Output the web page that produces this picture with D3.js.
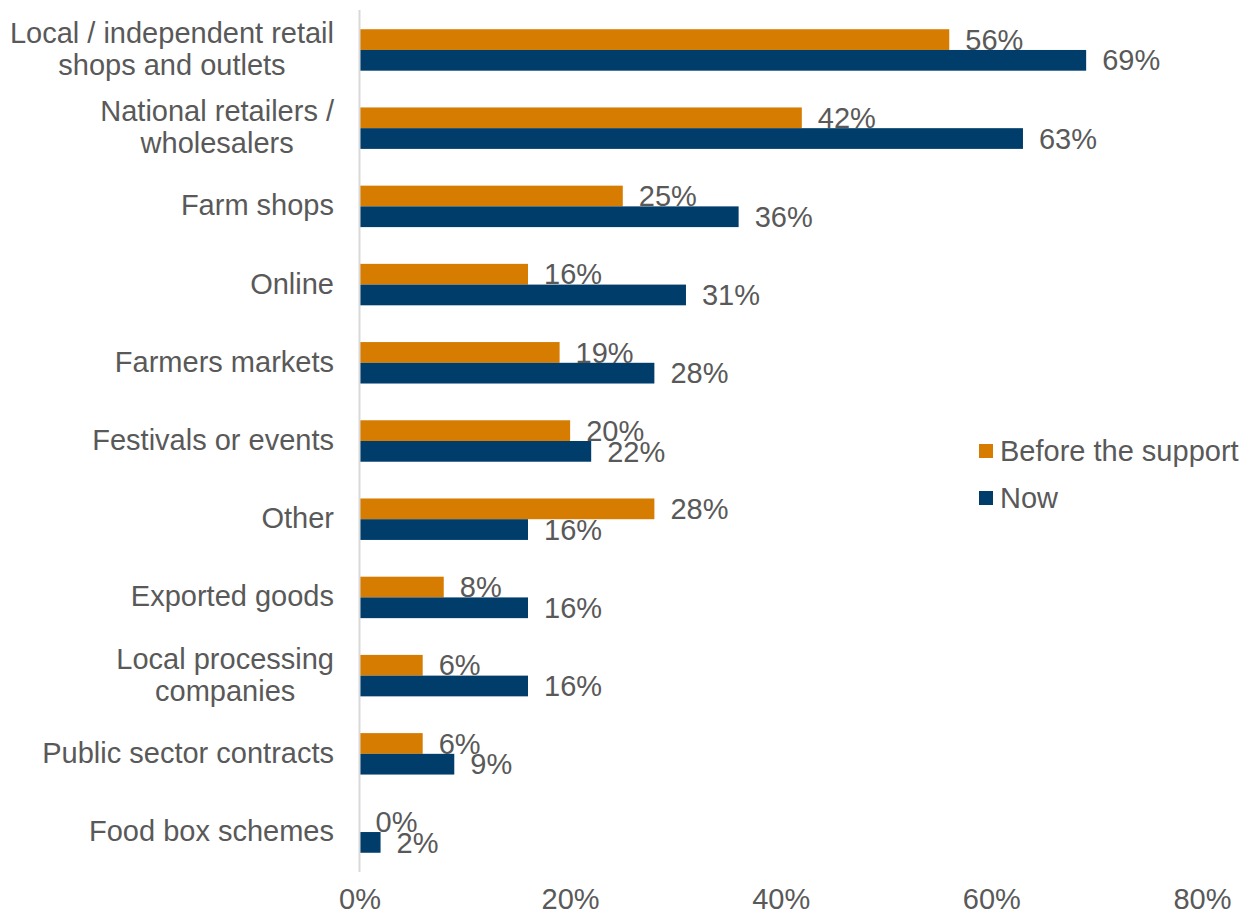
<!DOCTYPE html>
<html>
<head>
<meta charset="utf-8">
<script src="https://cdn.jsdelivr.net/npm/d3@7"></script>
<style>
  html, body { margin: 0; padding: 0; background: #ffffff; }
  svg { display: block; font-family: "Liberation Sans", Arial, sans-serif; }
</style>
</head>
<body>
<svg id="chart" width="1244" height="916"></svg>
<script>
// Sales channels, top to bottom
const categories = [
  ["Local / independent retail", "shops and outlets"],
  ["National retailers /", "wholesalers"],
  ["Farm shops"],
  ["Online"],
  ["Farmers markets"],
  ["Festivals or events"],
  ["Other"],
  ["Exported goods"],
  ["Local processing", "companies"],
  ["Public sector contracts"],
  ["Food box schemes"]
];
const seriesNames = ["Before the support", "Now"];
const beforeValues = [56, 42, 25, 16, 19, 20, 28, 8, 6, 6, 0];
const nowValues    = [69, 63, 36, 31, 28, 22, 16, 16, 16, 9, 2];
const tickValues = [0, 20, 40, 60, 80];
const colors = ["#d67c00", "#003d6b"];

const svg = d3.select("#chart");
const keys = categories.map(c => c.join(" "));
const rows = keys.map((k, i) => ({ key: k, lines: categories[i], values: [beforeValues[i], nowValues[i]] }));

const x = d3.scaleLinear().domain([0, 80]).range([359.5, 1202]);
const y = d3.scaleBand().domain(keys).range([10, 872]).paddingInner(0.47).paddingOuter(0.246);
const ySub = d3.scaleBand().domain(seriesNames).range([0, y.bandwidth()]);
const color = d3.scaleOrdinal().domain(seriesNames).range(colors);

const textColor = "#595959";
const fontSize = 29;

// bars
const groups = svg.append("g").selectAll("g")
  .data(rows).join("g")
  .attr("transform", d => `translate(0,${y(d.key)})`);

groups.selectAll("rect")
  .data(d => d.values.map((v, j) => ({ name: seriesNames[j], v })))
  .join("rect")
  .attr("x", x(0))
  .attr("y", d => ySub(d.name))
  .attr("width", d => x(d.v) - x(0))
  .attr("height", ySub.bandwidth())
  .attr("fill", d => color(d.name));

// value labels
groups.selectAll("text.val")
  .data(d => d.values.map((v, j) => ({ name: seriesNames[j], v })))
  .join("text")
  .attr("class", "val")
  .attr("x", d => x(d.v) + 16)
  .attr("y", d => ySub(d.name) + ySub.bandwidth() / 2)
  .attr("dy", "0.35em")
  .attr("fill", textColor)
  .attr("font-size", fontSize)
  .text(d => d.v + "%");

// vertical axis line
svg.append("line")
  .attr("x1", x(0)).attr("x2", x(0))
  .attr("y1", 10).attr("y2", 872)
  .attr("stroke", "#d9d9d9").attr("stroke-width", 2);

// category labels: block right-aligned to the axis, lines centred within the block
const lineGap = 32;
const labelRight = 334;
svg.append("g").selectAll("text")
  .data(rows).join("text")
  .attr("fill", textColor)
  .attr("font-size", fontSize)
  .each(function (d) {
    const sel = d3.select(this);
    const cy = y(d.key) + y.bandwidth() / 2;
    const n = d.lines.length;
    const spans = sel.selectAll("tspan")
      .data(d.lines).join("tspan")
      .attr("y", (l, i) => cy + (i - (n - 1) / 2) * lineGap)
      .attr("dy", "0.31em")
      .text(l => l);
    let maxW = 0;
    spans.each(function () { maxW = Math.max(maxW, this.getComputedTextLength()); });
    spans.attr("text-anchor", "middle").attr("x", labelRight - maxW / 2);
  });

// x axis tick labels
const xAxis = svg.append("g")
  .attr("transform", "translate(0,888)")
  .call(d3.axisBottom(x).tickValues(tickValues).tickSize(0).tickPadding(0).tickFormat(d => d + "%"));
xAxis.select(".domain").remove();
xAxis.selectAll("text")
  .attr("fill", textColor)
  .attr("font-size", fontSize)
  .attr("font-family", "Liberation Sans, Arial, sans-serif");

// legend
const legend = svg.append("g").selectAll("g")
  .data(seriesNames).join("g")
  .attr("transform", (d, i) => `translate(979,${451 + i * 47})`);
legend.append("rect")
  .attr("x", 0).attr("y", -7)
  .attr("width", 14).attr("height", 14)
  .attr("fill", d => color(d));
legend.append("text")
  .attr("x", 21).attr("y", 0).attr("dy", "0.35em")
  .attr("fill", textColor)
  .attr("font-size", fontSize)
  .text(d => d);
</script>
</body>
</html>
